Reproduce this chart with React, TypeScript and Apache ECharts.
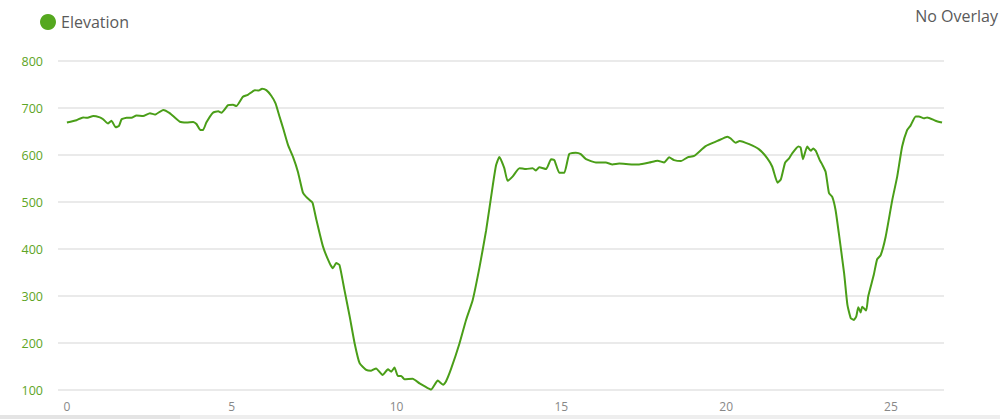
import React, { useEffect, useRef } from "react";
import * as echarts from "echarts";

const seriesName = "Elevation";
const overlayLabel = "No Overlay";
const xTickValues = [0, 5, 10, 15, 20, 25];

const distanceKm = [
  0, 0.29, 0.49, 0.6, 0.8, 1.0, 1.1, 1.25, 1.35, 1.48, 1.58, 1.66, 1.81, 1.96, 2.11, 2.31, 2.52, 2.67, 2.92, 3.12,
  3.42, 3.63, 3.83, 3.93, 4.05, 4.13, 4.23, 4.43, 4.59, 4.69, 4.89, 5.04, 5.14, 5.34, 5.49, 5.7, 5.82, 5.92, 6.05, 6.2,
  6.33, 6.45, 6.56, 6.71, 6.86, 7.01, 7.16, 7.26, 7.42, 7.46, 7.57, 7.77, 7.97, 8.07, 8.17, 8.27, 8.42, 8.58, 8.73, 8.88,
  9.08, 9.23, 9.38, 9.58, 9.74, 9.84, 9.94, 10.04, 10.14, 10.24, 10.49, 10.7, 10.9, 11.05, 11.25, 11.42, 11.5, 11.66, 11.91, 12.11,
  12.31, 12.52, 12.72, 12.92, 13.02, 13.12, 13.27, 13.37, 13.52, 13.73, 13.93, 14.13, 14.23, 14.33, 14.54, 14.69, 14.79, 14.94, 15.09, 15.24,
  15.44, 15.59, 15.75, 16.05, 16.35, 16.55, 16.76, 17.16, 17.36, 17.67, 17.92, 18.12, 18.27, 18.42, 18.63, 18.83, 19.03, 19.38, 19.74, 20.04,
  20.14, 20.29, 20.41, 20.7, 21.0, 21.25, 21.4, 21.56, 21.66, 21.79, 21.91, 22.01, 22.19, 22.26, 22.33, 22.46, 22.57, 22.64, 22.72, 22.84,
  22.92, 23.02, 23.12, 23.22, 23.32, 23.42, 23.58, 23.68, 23.78, 23.88, 23.95, 24.01, 24.08, 24.13, 24.25, 24.31, 24.48, 24.58, 24.69, 24.84,
  25.04, 25.19, 25.34, 25.49, 25.59, 25.75, 25.85, 26.0, 26.1, 26.35, 26.55,
];

const elevationM = [
  669, 674, 680, 679, 683, 680, 676, 667, 673, 659, 662, 676, 679, 679, 684, 683, 689, 686, 696, 689,
  671, 669, 670, 666, 653, 653, 669, 690, 693, 690, 706, 707, 704, 724, 728, 738, 737, 741, 738, 726,
  710, 682, 657, 621, 596, 564, 520, 511, 501, 497, 462, 405, 370, 359, 370, 366, 313, 256, 199, 157,
  143, 141, 146, 132, 144, 139, 148, 130, 130, 123, 124, 114, 106, 101, 120, 111, 118, 146, 199, 249,
  291, 362, 440, 535, 578, 596, 572, 545, 554, 572, 570, 572, 567, 574, 570, 591, 589, 562, 562, 602,
  605, 602, 591, 584, 584, 580, 582, 580, 580, 584, 588, 584, 595, 589, 587, 595, 598, 619, 630, 639,
  635, 626, 630, 623, 612, 593, 575, 541, 548, 584, 593, 604, 618, 616, 591, 618, 609, 614, 609, 589,
  579, 564, 519, 511, 483, 433, 348, 281, 253, 249, 257, 276, 265, 277, 269, 299, 345, 378, 387, 426,
  504, 554, 618, 653, 662, 682, 682, 678, 680, 673, 669,
];

export default function App() {
  const ref = useRef<HTMLDivElement>(null);

  useEffect(() => {
    document.body.style.margin = "0";
    if (!ref.current) return;
    const chart = echarts.init(ref.current, undefined, { renderer: "svg" });
    const data = distanceKm.map((d, i) => [d, elevationM[i]]);
    chart.setOption({
      animation: false,
      title: {
        text: overlayLabel,
        right: 2,
        top: 8,
        padding: 0,
        textStyle: {
          fontFamily: "Open Sans",
          fontWeight: "normal",
          fontSize: 16,
          color: "#5a5a5a",
        },
      },
      legend: {
        left: 35,
        top: 9,
        icon: "circle",
        itemWidth: 16,
        itemHeight: 16,
        itemGap: 6,
        textStyle: {
          fontFamily: "Open Sans",
          fontSize: 16,
          color: "#5a5a5a",
        },
        data: [seriesName],
      },
      grid: { left: 58, right: 56, top: 61, bottom: 29, containLabel: false },
      xAxis: {
        type: "value",
        min: -0.27,
        max: 26.61,
        axisLine: { show: false },
        axisTick: { show: false },
        splitLine: { show: false },
        axisLabel: {
          customValues: xTickValues,
          color: "#888",
          fontFamily: "Open Sans",
          fontSize: 12,
          margin: 10,
        },
      },
      yAxis: {
        type: "value",
        min: 100,
        max: 800,
        interval: 100,
        axisLine: { show: false },
        axisTick: { show: false },
        splitLine: { lineStyle: { color: "#e3e3e3", width: 1.5 } },
        axisLabel: {
          color: "#5ea526",
          fontFamily: "Open Sans",
          fontSize: 12.5,
          margin: 15,
        },
      },
      graphic: [
        { type: "rect", left: 0, bottom: 0, shape: { width: 1000, height: 4 }, style: { fill: "#eeeeee" } },
        { type: "rect", left: 0, bottom: 0, shape: { width: 180, height: 4 }, style: { fill: "#e4e4e4" } },
      ],
      series: [
        {
          name: seriesName,
          type: "line",
          data,
          showSymbol: false,
          symbol: "none",
          smooth: 0.15,
          itemStyle: { color: "#55a81f" },
          lineStyle: { color: "#4a9e18", width: 2 },
        },
      ],
    });
    return () => chart.dispose();
  }, []);

  return (
    <div
      ref={ref}
      style={{ position: "absolute", left: 0, top: 0, width: 1000, height: 419 }}
    />
  );
}
